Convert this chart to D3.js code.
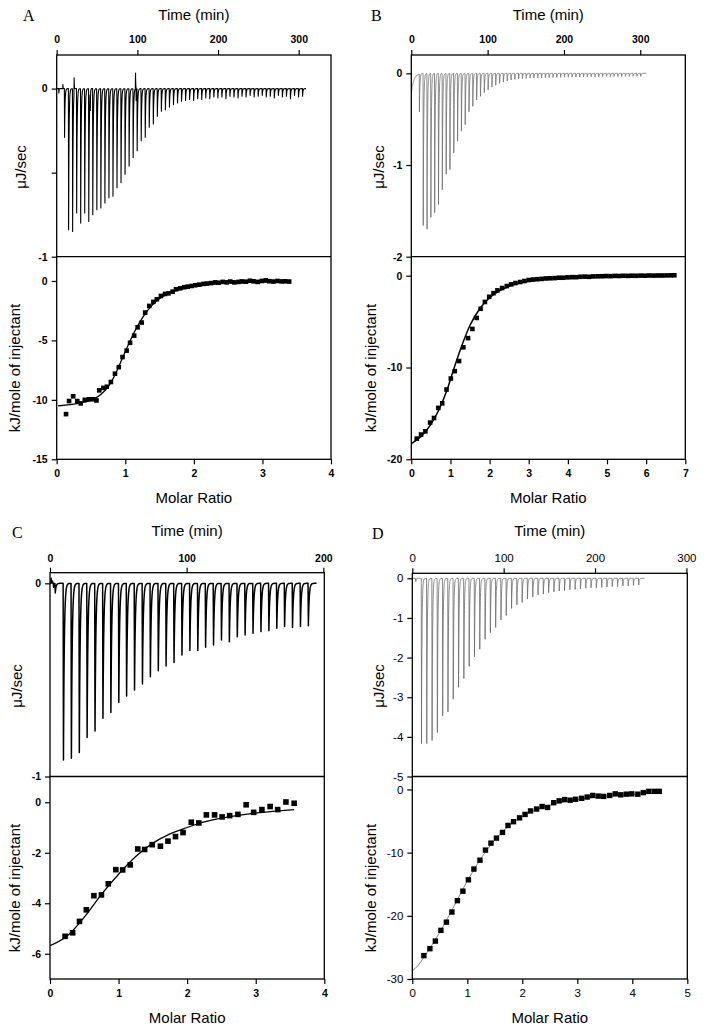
<!DOCTYPE html>
<html><head><meta charset="utf-8">
<script src="https://cdn.jsdelivr.net/npm/d3@7"></script>
<style>
body{margin:0;background:#fff;}
svg{display:block;}
</style></head><body>
<svg id="chart" width="706" height="1031"></svg>
<script>
// ---------------- DATA ----------------
const panelLetters = ["A", "B", "C", "D"];

// Panel A – raw thermogram
const injTimeA = [9.5,14.5,19.5,24.5,29.5,34.5,39.5,44.5,49.5,54.5,59.5,64.5,69.5,74.5,79.5,84.5,89.5,94.5,99.5,104.5,109.5,114.5,119.5,124.5,129.5,134.5,139.5,144.5,149.5,154.5,159.5,164.5,169.5,174.5,179.5,184.5,189.5,194.5,199.5,204.5,209.5,214.5,219.5,224.5,229.5,234.5,239.5,244.5,249.5,254.5,259.5,264.5,269.5,274.5,279.5,284.5,289.5,294.5,299.5,304.5];
const peakA = [-0.29,-0.84,-0.85,-0.74,-0.80,-0.74,-0.79,-0.75,-0.72,-0.71,-0.68,-0.65,-0.64,-0.59,-0.56,-0.51,-0.46,-0.41,-0.37,-0.31,-0.29,-0.23,-0.21,-0.165,-0.135,-0.125,-0.11,-0.095,-0.085,-0.075,-0.07,-0.065,-0.07,-0.06,-0.065,-0.055,-0.06,-0.05,-0.055,-0.05,-0.06,-0.045,-0.05,-0.055,-0.045,-0.05,-0.04,-0.05,-0.045,-0.04,-0.05,-0.045,-0.055,-0.04,-0.05,-0.045,-0.06,-0.04,-0.05,-0.045];
const glitchA = [[2.5,-0.026],[7.5,0.024],[21.4,0.064],[41.5,-0.13],[97.5,0.093],[98.3,-0.07]];
// Panel A – integrated heats
const ratioA = [0.136,0.18,0.24,0.30,0.35,0.41,0.47,0.53,0.58,0.62,0.68,0.73,0.79,0.85,0.905,0.96,1.02,1.07,1.13,1.18,1.24,1.29,1.35,1.41,1.46,1.52,1.58,1.63,1.69,1.74,1.80,1.86,1.91,1.97,2.02,2.08,2.14,2.19,2.25,2.31,2.36,2.42,2.48,2.53,2.59,2.65,2.70,2.76,2.82,2.87,2.93,2.99,3.05,3.10,3.16,3.22,3.28,3.33,3.39];
const heatA = [-11.2,-10.1,-9.7,-10.1,-10.3,-10.0,-9.95,-9.95,-10.05,-9.2,-9.0,-8.9,-8.5,-7.8,-7.25,-6.4,-5.86,-5.2,-4.6,-3.9,-3.5,-2.66,-2.1,-1.76,-1.54,-1.26,-1.09,-1.04,-0.9,-0.70,-0.62,-0.53,-0.48,-0.42,-0.36,-0.31,-0.25,-0.22,-0.18,-0.12,-0.15,-0.08,-0.12,-0.05,-0.12,-0.08,-0.04,-0.06,0.02,-0.03,-0.08,0.0,0.05,-0.02,-0.05,0.0,-0.04,-0.03,-0.05];
const fitXA = [0.02,0.2,0.4,0.55,0.65,0.75,0.85,0.95,1.05,1.15,1.25,1.35,1.45,1.55,1.7,1.85,2.0,2.2,2.5,2.8,3.1,3.4];
const fitYA = [-10.5,-10.4,-10.2,-9.9,-9.5,-8.9,-7.9,-6.6,-5.3,-4.1,-3.1,-2.3,-1.7,-1.3,-0.9,-0.62,-0.45,-0.3,-0.17,-0.1,-0.06,-0.04];

// Panel B
const injTimeB = [10.4,15.4,20.4,25.4,30.4,35.4,40.4,45.4,50.4,55.4,60.4,65.4,70.4,75.4,80.4,85.4,90.4,95.4,100.4,105.4,110.4,115.4,120.4,125.4,130.4,135.4,140.4,145.4,150.4,155.4,160.4,165.4,170.4,175.4,180.4,185.4,190.4,195.4,200.4,205.4,210.4,215.4,220.4,225.4,230.4,235.4,240.4,245.4,250.4,255.4,260.4,265.4,270.4,275.4,280.4,285.4,290.4,295.4,300.4];
const peakB = [-0.42,-1.66,-1.70,-1.57,-1.52,-1.43,-1.27,-1.10,-1.05,-0.87,-0.74,-0.63,-0.56,-0.42,-0.36,-0.29,-0.25,-0.21,-0.18,-0.15,-0.13,-0.11,-0.094,-0.083,-0.072,-0.065,-0.06,-0.058,-0.055,-0.052,-0.05,-0.05,-0.048,-0.047,-0.046,-0.045,-0.044,-0.043,-0.042,-0.042,-0.041,-0.04,-0.04,-0.04,-0.039,-0.038,-0.038,-0.037,-0.037,-0.036,-0.036,-0.035,-0.035,-0.035,-0.034,-0.034,-0.033,-0.033,-0.033];
const glitchB = [[0,-0.22,3.2,0]];
const ratioB = [0.14,0.25,0.36,0.48,0.58,0.69,0.79,0.90,1.01,1.11,1.22,1.33,1.45,1.56,1.67,1.77,1.88,1.99,2.10,2.20,2.32,2.44,2.55,2.66,2.78,2.89,3.00,3.11,3.22,3.33,3.44,3.55,3.66,3.77,3.88,3.99,4.10,4.21,4.32,4.43,4.54,4.65,4.76,4.87,4.98,5.09,5.20,5.31,5.42,5.53,5.64,5.75,5.86,5.97,6.08,6.19,6.30,6.41,6.52,6.63,6.72];
const heatB = [-17.75,-17.3,-16.95,-16.0,-15.5,-14.4,-13.9,-12.4,-11.2,-10.4,-9.3,-7.8,-6.8,-5.8,-4.6,-3.6,-2.86,-2.3,-1.9,-1.6,-1.34,-1.13,-0.95,-0.80,-0.69,-0.58,-0.47,-0.42,-0.38,-0.35,-0.30,-0.28,-0.26,-0.22,-0.22,-0.18,-0.16,-0.16,-0.12,-0.10,-0.12,-0.08,-0.07,-0.06,-0.04,-0.05,-0.02,-0.03,-0.01,-0.02,0.0,-0.01,0.01,0.0,0.02,0.01,0.02,0.02,0.03,0.04,0.05];
const fitXB = [0,0.25,0.5,0.75,0.9,1.0,1.25,1.5,1.75,2.0,2.25,2.5,3.0,3.5,4.0,5.0,6.0,6.75];
const fitYB = [-18.3,-17.5,-16.2,-14.2,-12.6,-11.3,-8.1,-5.4,-3.6,-2.4,-1.65,-1.15,-0.6,-0.33,-0.2,-0.07,-0.02,0.0];

// Panel C
const injTimeC = [3.6,9.6,15.4,21.2,26.9,32.7,38.5,44.3,50.1,55.8,61.6,67.4,73.2,79.0,84.7,90.5,96.3,102.1,107.9,113.6,119.4,125.2,131.0,136.8,142.5,148.3,154.1,159.9,165.7,171.4,177.2,183.0,188.8];
const peakC = [-0.05,-0.914,-0.905,-0.876,-0.798,-0.764,-0.698,-0.669,-0.617,-0.583,-0.552,-0.521,-0.483,-0.452,-0.428,-0.41,-0.371,-0.348,-0.348,-0.331,-0.319,-0.293,-0.302,-0.276,-0.267,-0.259,-0.25,-0.245,-0.233,-0.224,-0.229,-0.224,-0.219];
const glitchC = [[0.6,0.026],[1.6,0.012],[2.4,-0.02]];
const ratioC = [0.22,0.33,0.43,0.53,0.64,0.75,0.85,0.96,1.06,1.17,1.28,1.38,1.49,1.61,1.72,1.83,1.94,2.06,2.17,2.28,2.40,2.51,2.62,2.74,2.86,2.97,3.09,3.21,3.32,3.44,3.56];
const heatC = [-5.31,-5.17,-4.72,-4.26,-3.70,-3.67,-3.23,-2.67,-2.68,-2.48,-1.85,-1.87,-1.68,-1.74,-1.54,-1.36,-1.20,-0.79,-0.82,-0.50,-0.50,-0.58,-0.53,-0.48,-0.10,-0.40,-0.29,-0.17,-0.29,0.01,-0.04];
const fitXC = [0,0.25,0.5,0.75,1.0,1.25,1.5,1.75,2.0,2.25,2.5,2.75,3.0,3.25,3.56];
const fitYC = [-5.68,-5.3,-4.55,-3.65,-2.85,-2.15,-1.62,-1.25,-1.0,-0.78,-0.63,-0.52,-0.43,-0.36,-0.29];

// Panel D
const injTimeD = [3.6,9.8,15.6,21.4,27.2,33.0,38.8,44.6,50.4,56.2,62.0,67.8,73.6,79.4,85.2,91.0,96.8,102.6,108.4,114.2,120.0,125.8,131.6,137.4,143.2,149.0,154.8,160.6,166.4,172.2,178.0,183.8,189.6,195.4,201.2,207.0,212.8,218.6,224.4,230.2,236.0,241.8,247.6];
const peakD = [-0.08,-4.17,-4.17,-4.09,-3.89,-3.47,-3.37,-3.05,-2.75,-2.53,-2.22,-1.98,-1.79,-1.54,-1.37,-1.24,-1.05,-0.94,-0.76,-0.67,-0.61,-0.52,-0.47,-0.42,-0.40,-0.36,-0.34,-0.32,-0.31,-0.29,-0.28,-0.27,-0.25,-0.24,-0.24,-0.23,-0.22,-0.21,-0.21,-0.19,-0.19,-0.18,-0.17];
const glitchD = [];
const ratioD = [0.21,0.32,0.42,0.52,0.62,0.72,0.82,0.92,1.02,1.12,1.23,1.33,1.43,1.53,1.64,1.74,1.84,1.95,2.05,2.15,2.26,2.36,2.46,2.57,2.67,2.77,2.87,2.97,3.08,3.18,3.28,3.38,3.48,3.59,3.69,3.79,3.89,3.99,4.10,4.20,4.30,4.40,4.49];
const heatD = [-26.3,-25.2,-24.0,-22.3,-21.0,-19.4,-17.6,-16.1,-14.3,-12.6,-11.2,-9.6,-8.5,-7.7,-6.8,-5.7,-5.1,-4.5,-3.95,-3.4,-3.1,-2.7,-2.85,-2.1,-1.8,-1.6,-1.7,-1.55,-1.4,-1.2,-0.95,-1.05,-1.1,-0.95,-0.7,-0.85,-0.75,-0.7,-0.75,-0.5,-0.3,-0.3,-0.3];
const fitXD = [0,0.1,0.2,0.3,0.5,0.75,1.0,1.25,1.5,1.75,2.0,2.25,2.5,3.0,3.5,4.0,4.5];
const fitYD = [-28.7,-27.9,-26.7,-25.4,-22.6,-18.6,-14.5,-10.9,-8.0,-5.8,-4.3,-3.2,-2.5,-1.6,-1.1,-0.8,-0.55];

// Axis tick values and domains
const timeTicksA = [0,100,200,300], timeTicksB = [0,100,200,300], timeTicksC = [0,100,200], timeTicksD = [0,100,200,300];
const rawTicksA = [0,-0.5,-1], rawTicksB = [0,-1,-2], rawTicksC = [0,-1], rawTicksD = [0,-1,-2,-3,-4,-5];
const heatTicksA = [0,-5,-10,-15], heatTicksB = [0,-10,-20], heatTicksC = [0,-2,-4,-6], heatTicksD = [0,-10,-20,-30];
const ratioTicksA = [0,1,2,3,4], ratioTicksB = [0,1,2,3,4,5,6,7], ratioTicksC = [0,1,2,3,4], ratioTicksD = [0,1,2,3,4,5];
const timeDomA = [0,340], timeDomB = [0,359], timeDomC = [0,200.7], timeDomD = [0,301];
const rawDomA = [-1,0.2], rawDomB = [-2,0.2], rawDomC = [-1,0.055], rawDomD = [-5,0.126];
const heatDomA = [-15,2.04], heatDomB = [-20,2.07], heatDomC = [-7,1.02], heatDomD = [-30,2.05];
const ratioDomA = [0,4], ratioDomB = [0,7], ratioDomC = [0,4], ratioDomD = [0,5];
const traceEndA = 309, traceEndB = 308, traceEndC = 195, traceEndD = 254;

// ---------------- LAYOUT / STYLE ----------------
const panels = [
  {letter:panelLetters[0], L:56.7, R:331, T:55, M:256.7, B:459.3,
   times:injTimeA, peaks:peakA, glitch:glitchA, tau:0.55, traceEnd:traceEndA,
   ratio:ratioA, heat:heatA, fitX:fitXA, fitY:fitYA,
   timeTicks:timeTicksA, rawTicks:rawTicksA, heatTicks:heatTicksA, ratioTicks:ratioTicksA,
   timeDom:timeDomA, rawDom:rawDomA, heatDom:heatDomA, ratioDom:ratioDomA,
   traceColor:"#000", traceW:1.1, fitColor:"#000", fitW:1.3, sq:4.6, bold:true,
   letterX:23, letterY:21, timeTitleY:19.5, timeTickY:43, muX:26, muY:167, kjX:20, kjY:368, mrTickY:477, mrTitleY:503},
  {letter:panelLetters[1], L:411.3, R:685.3, T:55, M:256.7, B:459.3,
   times:injTimeB, peaks:peakB, glitch:glitchB, tau:0.6, traceEnd:traceEndB,
   ratio:ratioB, heat:heatB, fitX:fitXB, fitY:fitYB,
   timeTicks:timeTicksB, rawTicks:rawTicksB, heatTicks:heatTicksB, ratioTicks:ratioTicksB,
   timeDom:timeDomB, rawDom:rawDomB, heatDom:heatDomB, ratioDom:ratioDomB,
   traceColor:"#6e6e6e", traceW:0.8, fitColor:"#000", fitW:1.5, sq:4.6, bold:true,
   letterX:371, letterY:21, timeTitleY:19.5, timeTickY:43, muX:383.5, muY:167, kjX:376, kjY:368, mrTickY:477, mrTitleY:503},
  {letter:panelLetters[2], L:50, R:324.3, T:572.7, M:776.5, B:979,
   times:injTimeC, peaks:peakC, glitch:glitchC, tau:0.6, traceEnd:traceEndC,
   ratio:ratioC, heat:heatC, fitX:fitXC, fitY:fitYC,
   timeTicks:timeTicksC, rawTicks:rawTicksC, heatTicks:heatTicksC, ratioTicks:ratioTicksC,
   timeDom:timeDomC, rawDom:rawDomC, heatDom:heatDomC, ratioDom:ratioDomC,
   traceColor:"#000", traceW:1.5, fitColor:"#000", fitW:1.3, sq:5.6, bold:true,
   letterX:12, letterY:538, timeTitleY:536, timeTickY:562, muX:22, muY:686, kjX:20, kjY:888, mrTickY:997, mrTitleY:1023},
  {letter:panelLetters[3], L:412.3, R:687.3, T:573.3, M:776.5, B:979,
   times:injTimeD, peaks:peakD, glitch:glitchD, tau:0.55, traceEnd:traceEndD,
   ratio:ratioD, heat:heatD, fitX:fitXD, fitY:fitYD,
   timeTicks:timeTicksD, rawTicks:rawTicksD, heatTicks:heatTicksD, ratioTicks:ratioTicksD,
   timeDom:timeDomD, rawDom:rawDomD, heatDom:heatDomD, ratioDom:ratioDomD,
   traceColor:"#6a6a6a", traceW:0.8, fitColor:"#666", fitW:0.8, sq:5.4, bold:false,
   letterX:372, letterY:539, timeTitleY:536, timeTickY:562, muX:384, muY:686, kjX:376, kjY:888, mrTickY:997, mrTitleY:1023}
];

const svg = d3.select("#chart");
const FONT = "Arial, 'Liberation Sans', Helvetica, sans-serif";

function buildTrace(times, peaks, glitch, tau, endT) {
  const ev = times.map((t, i) => ({t, v: peaks[i], tau, drop: 0.25}));
  glitch.forEach(g => ev.push({t: g[0], v: g[1], tau: g[2] != null ? g[2] : 0.25, drop: g[3] != null ? g[3] : 0.2}));
  ev.sort((a, b) => a.t - b.t);
  const pts = [[0, 0]];
  ev.forEach((e, i) => {
    const next = i < ev.length - 1 ? ev[i + 1].t : endT;
    const last = pts[pts.length - 1];
    pts.push([e.t, last[1]]);
    pts.push([e.t + e.drop, e.v]);
    for (let s = 0.08; e.t + e.drop + s < next && s < 7 * e.tau; s += 0.08) {
      pts.push([e.t + e.drop + s, e.v * Math.exp(-s / e.tau)]);
    }
  });
  const last = pts[pts.length - 1];
  pts.push([Math.max(last[0] + 0.1, endT), 0]);
  return pts;
}

panels.forEach((p, pi) => {
  const g = svg.append("g");
  const x = d3.scaleLinear().domain(p.timeDom).range([p.L, p.R]);
  const yTop = d3.scaleLinear().domain(p.rawDom).range([p.M, p.T]);
  const xr = d3.scaleLinear().domain(p.ratioDom).range([p.L, p.R]);
  const yBot = d3.scaleLinear().domain(p.heatDom).range([p.B, p.M]);
  const fw = p.bold ? "bold" : "normal";
  const tfs = p.bold ? "10.5px" : "11.5px";

  const cid1 = "clipT" + pi, cid2 = "clipB" + pi;
  const defs = svg.append("defs");
  defs.append("clipPath").attr("id", cid1).append("rect")
    .attr("x", p.L).attr("y", p.T).attr("width", p.R - p.L).attr("height", p.M - p.T);
  defs.append("clipPath").attr("id", cid2).append("rect")
    .attr("x", p.L).attr("y", p.M).attr("width", p.R - p.L).attr("height", p.B - p.M);

  // thermogram
  const trace = buildTrace(p.times, p.peaks, p.glitch, p.tau, p.traceEnd);
  g.append("path").datum(trace)
    .attr("clip-path", `url(#${cid1})`)
    .attr("fill", "none").attr("stroke", p.traceColor).attr("stroke-width", p.traceW)
    .attr("stroke-linejoin", "round")
    .attr("d", d3.line().x(d => x(d[0])).y(d => yTop(d[1])));

  // fit curve
  const fitPts = p.fitX.map((v, i) => [v, p.fitY[i]]);
  g.append("path").datum(fitPts)
    .attr("clip-path", `url(#${cid2})`)
    .attr("fill", "none").attr("stroke", p.fitColor).attr("stroke-width", p.fitW)
    .attr("d", d3.line().curve(d3.curveMonotoneX).x(d => xr(d[0])).y(d => yBot(d[1])));

  // data squares
  const pts = p.ratio.map((v, i) => [v, p.heat[i]]);
  g.append("g").selectAll("rect").data(pts).join("rect")
    .attr("x", d => xr(d[0]) - p.sq / 2).attr("y", d => yBot(d[1]) - p.sq / 2)
    .attr("width", p.sq).attr("height", p.sq).attr("fill", "#000");

  // frames
  g.append("rect").attr("x", p.L).attr("y", p.T).attr("width", p.R - p.L).attr("height", p.B - p.T)
    .attr("fill", "none").attr("stroke", "#000").attr("stroke-width", 1.3);
  g.append("line").attr("x1", p.L).attr("x2", p.R).attr("y1", p.M).attr("y2", p.M)
    .attr("stroke", "#000").attr("stroke-width", 1.3);

  const fmt = d => Number.isInteger(d) ? String(d) : "";
  function styleAxis(sel) {
    sel.select(".domain").remove();
    sel.selectAll(".tick line").attr("stroke", "#000").attr("stroke-width", 1.2);
    sel.selectAll(".tick text").attr("font-family", FONT).attr("font-size", tfs)
      .attr("font-weight", fw).attr("fill", "#000");
  }
  const ax1 = g.append("g").attr("transform", `translate(0,${p.T})`)
    .call(d3.axisTop(x).tickValues(p.timeTicks).tickSize(5).tickPadding(3).tickFormat(fmt));
  styleAxis(ax1);
  ax1.selectAll(".tick text").attr("dy", null).attr("y", p.timeTickY - p.T);
  const ax2 = g.append("g").attr("transform", `translate(${p.L},0)`)
    .call(d3.axisLeft(yTop).tickValues(p.rawTicks).tickSize(5).tickPadding(4).tickFormat(fmt));
  styleAxis(ax2);
  const ax3 = g.append("g").attr("transform", `translate(${p.L},0)`)
    .call(d3.axisLeft(yBot).tickValues(p.heatTicks).tickSize(5).tickPadding(4).tickFormat(fmt));
  styleAxis(ax3);
  const ax4 = g.append("g").attr("transform", `translate(0,${p.B})`)
    .call(d3.axisBottom(xr).tickValues(p.ratioTicks).tickSize(5).tickPadding(3).tickFormat(fmt));
  styleAxis(ax4);
  ax4.selectAll(".tick text").attr("dy", null).attr("y", p.mrTickY - p.B);

  const cx = (p.L + p.R) / 2;
  g.append("text").attr("x", cx).attr("y", p.timeTitleY).attr("text-anchor", "middle")
    .attr("font-family", FONT).attr("font-size", "15px").text("Time (min)");
  g.append("text").attr("x", cx).attr("y", p.mrTitleY).attr("text-anchor", "middle")
    .attr("font-family", FONT).attr("font-size", "15px").text("Molar Ratio");
  g.append("text").attr("transform", `translate(${p.muX},${p.muY}) rotate(-90)`).attr("text-anchor", "middle")
    .attr("font-family", FONT).attr("font-size", "15px").text("μJ/sec");
  g.append("text").attr("transform", `translate(${p.kjX},${p.kjY}) rotate(-90)`).attr("text-anchor", "middle")
    .attr("font-family", FONT).attr("font-size", "15px").text("kJ/mole of injectant");
  g.append("text").attr("x", p.letterX).attr("y", p.letterY)
    .attr("font-family", "'Liberation Serif', 'Times New Roman', serif").attr("font-size", "16px").text(p.letter);
});
</script>
</body></html>
